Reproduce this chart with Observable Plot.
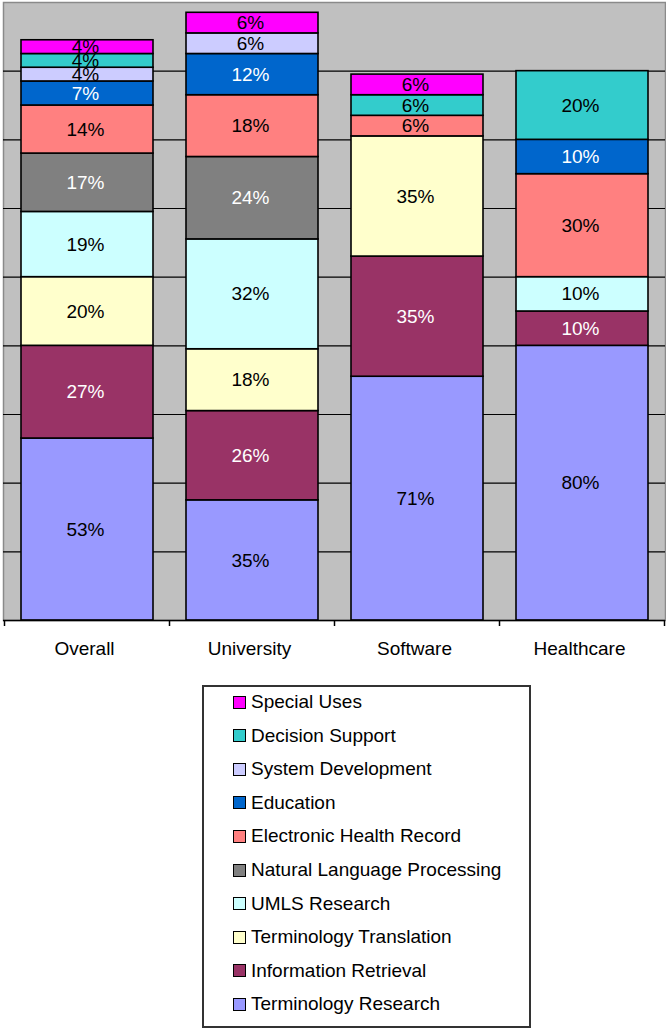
<!DOCTYPE html>
<html>
<head>
<meta charset="utf-8">
<script src="https://cdn.jsdelivr.net/npm/d3@7"></script>
<script src="https://cdn.jsdelivr.net/npm/@observablehq/plot@0.6"></script>
<style>
  html, body { margin: 0; padding: 0; background: #fff; }
  #wrap { position: relative; width: 666px; height: 1032px; font-family: "Liberation Sans", Arial, sans-serif; }
  #chart { position: absolute; left: 0; top: 0; }
  #legend { position: absolute; left: 202px; top: 685px; width: 329px; height: 343px; border: 2px solid #333; box-sizing: border-box; background: #fff; }
  .row { position: absolute; left: 0; height: 34px; display: flex; align-items: center; font-size: 19px; color: #000; white-space: nowrap; }
  .sw { width: 11px; height: 11px; border: 1px solid #000; margin-left: 29px; margin-right: 5px; flex: none; }
</style>
</head>
<body>
<div id="wrap"><div id="chart"></div><div id="legend"></div></div>
<script>
// ---- data ----
const categories = ["Overall", "University", "Software", "Healthcare"];
// stack order, bottom to top
const series = [
  "Terminology Research",
  "Information Retrieval",
  "Terminology Translation",
  "UMLS Research",
  "Natural Language Processing",
  "Electronic Health Record",
  "Education",
  "System Development",
  "Decision Support",
  "Special Uses"
];
const seriesColors = ["#9999FF", "#993366", "#FFFFCC", "#CCFFFF", "#808080", "#FF8080", "#0066CC", "#CCCCFF", "#33CCCC", "#FF00FF"];
const whiteLabelSeries = ["Information Retrieval", "Natural Language Processing", "Education"];

// percentages per category (Overall, University, Software, Healthcare)
const terminologyResearch      = [53, 35, 71, 80];
const informationRetrieval     = [27, 26, 35, 10];
const terminologyTranslation   = [20, 18, 35, 0];
const umlsResearch             = [19, 32, 0, 10];
const naturalLanguageProcessing= [17, 24, 0, 0];
const electronicHealthRecord   = [14, 18, 6, 30];
const education                = [7, 12, 0, 10];
const systemDevelopment        = [4, 6, 0, 0];
const decisionSupport          = [4, 0, 6, 20];
const specialUses              = [4, 6, 6, 0];

const gridValues = [20, 40, 60, 80, 100, 120, 140, 160];
const yDomain = [0, 180];

// ---- build table ----
const values = [terminologyResearch, informationRetrieval, terminologyTranslation, umlsResearch,
  naturalLanguageProcessing, electronicHealthRecord, education, systemDevelopment, decisionSupport, specialUses];
const rows = [];
series.forEach((s, i) => categories.forEach((c, j) => {
  if (values[i][j] > 0) rows.push({category: c, series: s, value: values[i][j]});
}));
const whiteSet = new Set(whiteLabelSeries);

function boundaryTicks(index, scales) {
  const x = scales.x;
  const bw = x.bandwidth ? x.bandwidth() : 0;
  const step = x.step ? x.step() : (x(categories[1]) - x(categories[0]));
  const y0 = scales.y(0);
  const xs = categories.map(c => x(c) + bw / 2 - step / 2);
  xs.push(x(categories[categories.length - 1]) + bw / 2 + step / 2);
  const g = d3.create("svg:g");
  g.selectAll("line").data(xs).join("line")
    .attr("x1", d => d).attr("x2", d => d)
    .attr("y1", y0).attr("y2", y0 + 6)
    .attr("stroke", "#000").attr("stroke-width", 1.5);
  return g.node();
}

const chart = Plot.plot({
  width: 666,
  height: 680,
  marginLeft: 3,
  marginRight: 1,
  marginTop: 2,
  marginBottom: 60,
  style: {background: "white", fontFamily: "'Liberation Sans', Arial, sans-serif", fontSize: "19px", overflow: "visible"},
  x: {domain: categories, paddingInner: 0.2, paddingOuter: 0.1, axis: null},
  y: {domain: yDomain, axis: null},
  color: {domain: series, range: seriesColors},
  marks: [
    Plot.frame({fill: "#C0C0C0", stroke: "#8a8a8a", strokeWidth: 1.5}),
    Plot.gridY(gridValues, {stroke: "#000", strokeOpacity: 1, strokeWidth: 1.2}),
    Plot.barY(rows, Plot.stackY({x: "category", y: "value", fill: "series", stroke: "#000", strokeWidth: 1.6})),
    Plot.text(rows, Plot.stackY({
      x: "category", y: "value", z: "series",
      text: d => d.value + "%",
      fill: d => whiteSet.has(d.series) ? "white" : "black",
      fontSize: 19,
      dx: -2
    })),
    Plot.ruleY([0], {stroke: "#000", strokeWidth: 1.5}),
    boundaryTicks,
    Plot.axisX({tickSize: 0, tickPadding: 21, fontSize: 19, fill: "#000", label: null, dx: -3})
  ]
});
document.getElementById("chart").appendChild(chart);

// ---- legend (top to bottom = reverse stack order) ----
const legend = d3.select("#legend");
const legendItems = series.map((s, i) => ({name: s, color: seriesColors[i]})).reverse();
legendItems.forEach((d, i) => {
  const row = legend.append("div").attr("class", "row").style("top", (-2 + 33.6 * i) + "px");
  row.append("div").attr("class", "sw").style("background", d.color);
  row.append("span").text(d.name);
});
</script>
</body>
</html>
